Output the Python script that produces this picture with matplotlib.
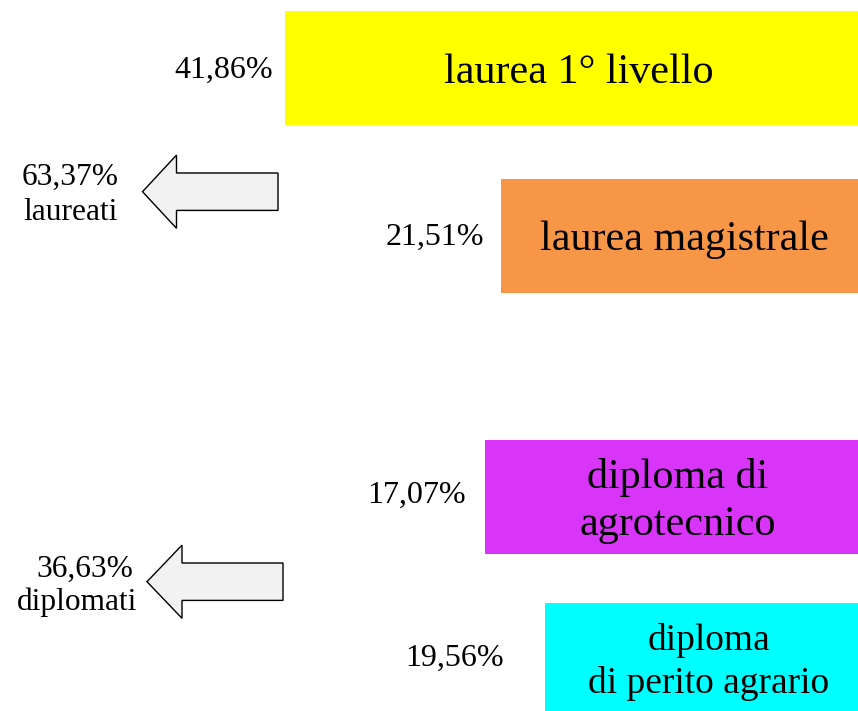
import matplotlib
matplotlib.use("Agg")
import matplotlib.pyplot as plt
from matplotlib.patches import Polygon

# ---- data ----
categories = ["laurea 1° livello", "laurea magistrale",
              "diploma di\nagrotecnico", "diploma\ndi perito agrario"]
values = [41.86, 21.51, 17.07, 19.56]
bar_lengths = [573, 357, 373, 313]          # drawn lengths
group_labels = ["laureati", "diplomati"]
group_values = [63.37, 36.63]

# ---- styles / layout ----
colors = ["#FFFF00", "#F79646", "#D935F8", "#00FFFF"]
cat_fontsize = [30.3, 30.3, 30.3, 27]
RIGHT = 858
bar_centers = [67.5, 236, 496.5, 659.5]
bar_height = 114
label_x = [579, 684, 678, 709]
label_baselines = [[82.7], [250], [488.3, 535], [650, 692.7]]
pct_right = [273, 484, 466, 503.5]
pct_baseline = [78.3, 245, 503.3, 666]

# arrows: tip x, center y, head base x, right x
arrows = [(142.5, 191.7, 176.5, 278), (147, 581.7, 182, 283)]
body_half, head_half = 18.7, 36.6
group_text_x = [[70.5, 70.5], [85, 77.5]]
group_baselines = [[185, 220], [576.7, 610]]

def pct(v):
    return f"{v:.2f}".replace(".", ",") + "%"

plt.rcParams["font.family"] = ["Liberation Serif", "DejaVu Serif"]

fig = plt.figure(figsize=(8.58, 7.11), dpi=100)
ax = fig.add_axes([0, 0, 1, 1])
ax.set_xlim(0, 858)
ax.set_ylim(711, 0)
ax.axis("off")

lefts = [RIGHT - L for L in bar_lengths]
ax.barh(bar_centers, bar_lengths, left=lefts, height=bar_height,
        color=colors, edgecolor="none")

for i, cat in enumerate(categories):
    for line, yb in zip(cat.split("\n"), label_baselines[i]):
        ax.text(label_x[i], yb, line, ha="center", va="baseline",
                fontsize=cat_fontsize[i], color="black")
    ax.text(pct_right[i], pct_baseline[i], pct(values[i]), ha="right",
            va="baseline", fontsize=23, color="black")

for (tip, cy, hb, rx), gl, gv, gx, gb in zip(arrows, group_labels, group_values,
                                             group_text_x, group_baselines):
    pts = [(tip, cy), (hb, cy - head_half), (hb, cy - body_half),
           (rx, cy - body_half), (rx, cy + body_half), (hb, cy + body_half),
           (hb, cy + head_half)]
    ax.add_patch(Polygon(pts, closed=True, facecolor="#F2F2F2",
                         edgecolor="black", linewidth=1.0))
    ax.text(gx[0], gb[0], pct(gv), ha="center", va="baseline", fontsize=22.6)
    ax.text(gx[1], gb[1], gl, ha="center", va="baseline", fontsize=22.6)

fig.savefig("out.png", dpi=100)
